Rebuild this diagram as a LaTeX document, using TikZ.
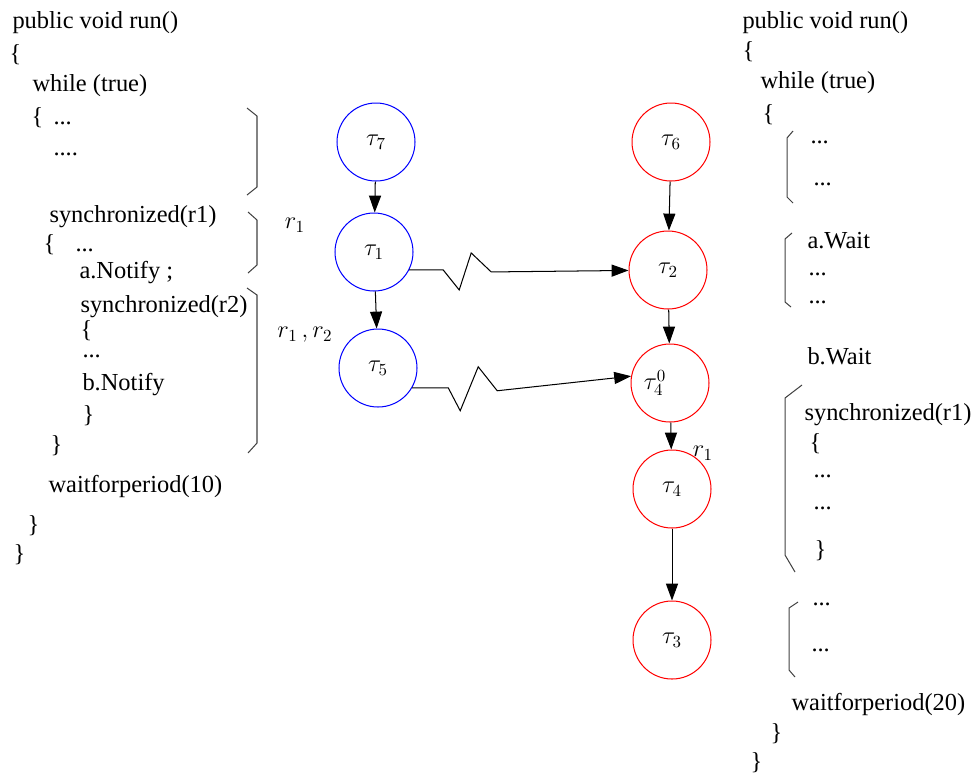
\documentclass[tikz,border=0pt]{standalone}
\usepackage[no-math]{fontspec}
\setmainfont{Liberation Serif}
\usepackage{amsmath}
\usetikzlibrary{arrows.meta}
\tikzset{
    every node/.style={font=\Large, inner sep=0pt}
}
\tikzset{
    code/.style={anchor=base west},
    task/.style={circle, minimum size=1.615cm, inner sep=0pt},
    hi/.style={task, draw=blue},
    lo/.style={task, draw=red},
    prec/.style={-{Triangle[length=3.5mm, width=2.5mm]}},
    brk/.style={draw=black!75}
}

\begin{document}
\begin{tikzpicture}[x=0.0207cm, y=-0.0207cm, line width=0.6pt]
	\useasboundingbox (0,0) rectangle (976,776);
	% left thread
	\node (la) [code] at (12,28) {public void run()};
	\node (lb) [code] at (9,61) {\{};
	\node (lc) [code] at (32,91) {while (true)};
	\node (ld) [code] at (31,124) {\{};
	\node (le) [code] at (53,124) {...};
	\node (lf) [code] at (53,155) {....};
	\node (lg) [code] at (49,222) {synchronized(r1)};
	\node (lh) [code] at (43,251) {\{};
	\node (li) [code] at (75,251) {...};
	\node (lj) [code] at (79,278) {a.Notify ;};
	\node (lk) [code] at (80,312) {synchronized(r2)};
	\node (ll) [code] at (80,337) {\{};
	\node (lm) [code] at (82,357) {...};
	\node (ln) [code] at (82,390) {b.Notify};
	\node (lo) [code] at (82,422) {\}};
	\node (lp) [code] at (50,452) {\}};
	\node (lq) [code] at (48,492) {waitforperiod(10)};
	\node (lr) [code] at (27,532) {\}};
	\node (ls) [code] at (13,561) {\}};
	\draw [brk] (247,108) -- (257,116) -- (257,187) -- (247,195);
	\draw [brk] (248,212) -- (257,220) -- (257,265) -- (248,273);
	\draw [brk] (247,288) -- (257,295) -- (257,443) -- (248,453);

	% right thread
	\node (ra) [code] at (742,28) {public void run()};
	\node (rb) [code] at (742,58) {\{};
	\node (rc) [code] at (760,88) {while (true)};
	\node (rd) [code] at (762,121) {\{};
	\node (re) [code] at (810,143) {...};
	\node (rf) [code] at (813,185) {...};
	\node (rg) [code] at (807,248) {a.Wait};
	\node (rh) [code] at (808,275) {...};
	\node (ri) [code] at (808,303) {...};
	\node (rj) [code] at (807,364) {b.Wait};
	\node (rk) [code] at (804,420) {synchronized(r1)};
	\node (rl) [code] at (809,450) {\{};
	\node (rm) [code] at (813,477) {...};
	\node (rn) [code] at (813,509) {...};
	\node (ro) [code] at (814,557) {\}};
	\node (rp) [code] at (812,605) {...};
	\node (rq) [code] at (811,651) {...};
	\node (rr) [code] at (791,710) {waitforperiod(20)};
	\node (rs) [code] at (770,740) {\}};
	\node (rt) [code] at (750,769) {\}};
	\draw [brk] (793,131) -- (787,138) -- (787,197) -- (793,203);
	\draw [brk] (792,233) -- (785,239) -- (785,302) -- (791,307);
	\draw [brk] (802,385) -- (785,398) -- (785,555) -- (795,572);
	\draw [brk] (798,602) -- (789,608) -- (789,670) -- (795,677);

	% task graph
	\node (t7) [hi] at (376,142) {$\tau_7$};
	\node (t1) [hi] at (374,252) {$\tau_1$};
	\node (t5) [hi] at (378,368) {$\tau_5$};
	\node (t6) [lo] at (671,142) {$\tau_6$};
	\node (t2) [lo] at (668,270) {$\tau_2$};
	\node (t40) [lo] at (670,383) {$\tau_4^0$\rule{0.62cm}{0pt}};
	\node (t4) [lo] at (672,489) {$\tau_4$};
	\node (t3) [lo] at (672,640) {$\tau_3$};
	\node (r1a) at (295,225) {$r_1$};
	\node (r12) at (305,335) {$r_1\,, r_2$};
	\node (r1b) at (703,453) {$r_1$};

	\draw [prec] (t7) -- (t1);
	\draw [prec] (t1) -- (t5);
	\draw [prec] (t6) -- (t2);
	\draw [prec] (t2) -- (t40);
	\draw [prec] (t40) -- (t4);
	\draw [prec] (t4) -- (t3);
	\draw [prec] (t1.-27) -- ++(34,0) -- ++(16,20) -- ++(12,-37) -- ++(20,19) -- (t2);
	\draw [prec] (t5.-30) -- ++(36,0) -- ++(12,23) -- ++(18,-44) -- ++(19,24) -- (t40.170);
\end{tikzpicture}
\end{document}
